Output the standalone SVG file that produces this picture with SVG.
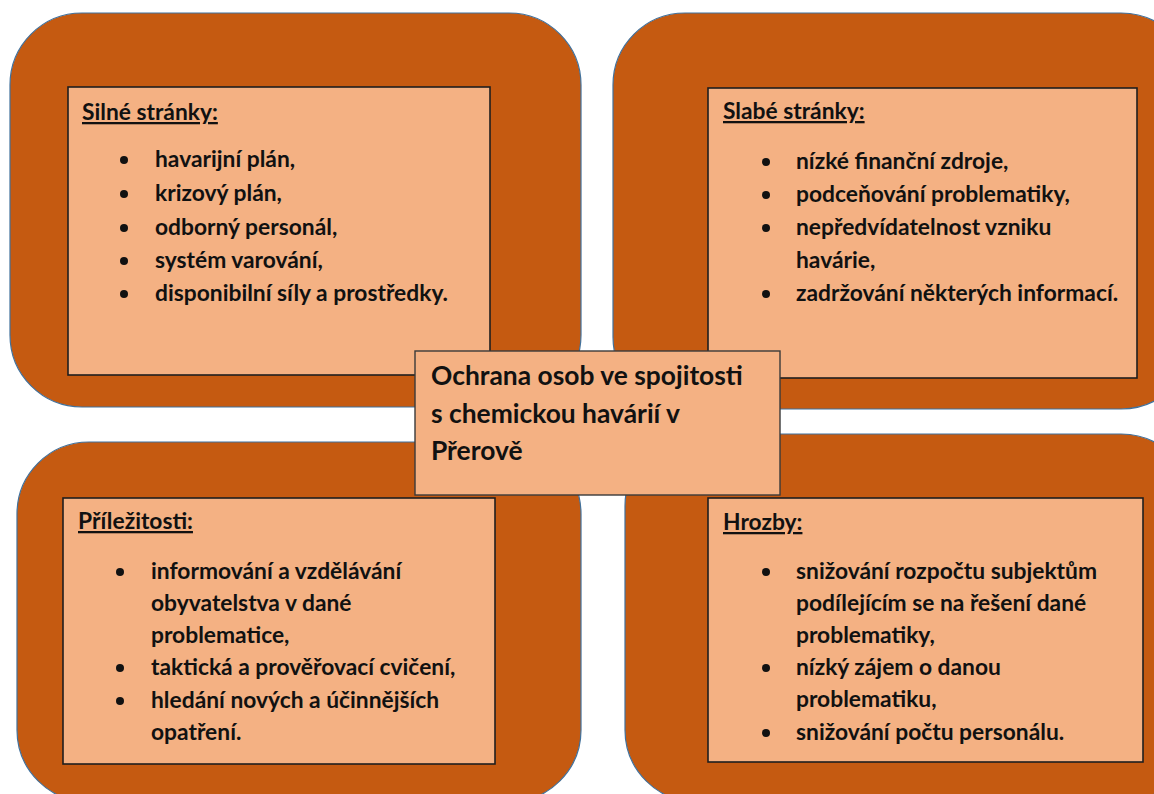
<svg xmlns="http://www.w3.org/2000/svg" width="1154" height="794" viewBox="0 0 1154 794">
<style>
.outer{fill:#C55A11;stroke:#41719C;stroke-width:1.2}
.inner{fill:#F4B183;stroke:#1E1E1E;stroke-width:1.6}
.center{fill:#F4B183;stroke:#3A3A3A;stroke-width:1.4}
.b{fill:#111}
text{font-family:Lato,"Open Sans","Liberation Sans",sans-serif;font-weight:bold;fill:#111}
.h{font-size:22.8px;text-decoration:underline}
.t{font-size:22.8px}
.c{font-size:26.4px}
</style>
<rect width="1154" height="794" fill="#FFFFFF"/>
<g id="strengths">
<rect class="outer" x="10" y="13" width="571" height="394" rx="72" ry="72"/>
<rect class="inner" x="68" y="87" width="422" height="288"/>
<text class="h" x="82" y="120">Silné stránky:</text>
<circle class="b" cx="124" cy="160" r="4"/><text class="t" x="155" y="167">havarijní plán,</text>
<circle class="b" cx="124" cy="194" r="4"/><text class="t" x="155" y="201">krizový plán,</text>
<circle class="b" cx="124" cy="228" r="4"/><text class="t" x="155" y="235">odborný personál,</text>
<circle class="b" cx="124" cy="261" r="4"/><text class="t" x="155" y="268">systém varování,</text>
<circle class="b" cx="124" cy="294" r="4"/><text class="t" x="155" y="301">disponibilní síly a prostředky.</text>
</g>
<g id="weaknesses">
<rect class="outer" x="613" y="13" width="580" height="396" rx="72" ry="72"/>
<rect class="inner" x="708" y="88" width="429" height="290"/>
<text class="h" x="723" y="119">Slabé stránky:</text>
<circle class="b" cx="766" cy="162" r="4"/><text class="t" x="796" y="169">nízké finanční zdroje,</text>
<circle class="b" cx="766" cy="195" r="4"/><text class="t" x="796" y="202">podceňování problematiky,</text>
<circle class="b" cx="766" cy="228" r="4"/><text class="t" x="796" y="235">nepředvídatelnost vzniku</text>
<text class="t" x="796" y="268">havárie,</text>
<circle class="b" cx="766" cy="294" r="4"/><text class="t" x="796" y="301">zadržování některých informací.</text>
</g>
<g id="opportunities">
<rect class="outer" x="17" y="442" width="564" height="360" rx="72" ry="72"/>
<rect class="inner" x="63" y="498" width="432" height="266"/>
<text class="h" x="78" y="529">Příležitosti:</text>
<circle class="b" cx="120" cy="572" r="4"/><text class="t" x="151" y="579">informování a vzdělávání</text>
<text class="t" x="151" y="611">obyvatelstva v dané</text>
<text class="t" x="151" y="643">problematice,</text>
<circle class="b" cx="120" cy="668" r="4"/><text class="t" x="151" y="675">taktická a prověřovací cvičení,</text>
<circle class="b" cx="120" cy="701" r="4"/><text class="t" x="151" y="708">hledání nových a účinnějších</text>
<text class="t" x="151" y="740">opatření.</text>
</g>
<g id="threats">
<rect class="outer" x="625" y="434" width="568" height="368" rx="72" ry="72"/>
<rect class="inner" x="708" y="498" width="435" height="264"/>
<text class="h" x="723" y="530">Hrozby:</text>
<circle class="b" cx="766" cy="572" r="4"/><text class="t" x="796" y="579">snižování rozpočtu subjektům</text>
<text class="t" x="796" y="611">podílejícím se na řešení dané</text>
<text class="t" x="796" y="643">problematiky,</text>
<circle class="b" cx="766" cy="668" r="4"/><text class="t" x="796" y="675">nízký zájem o danou</text>
<text class="t" x="796" y="707">problematiku,</text>
<circle class="b" cx="766" cy="733" r="4"/><text class="t" x="796" y="740">snižování počtu personálu.</text>
</g>
<g id="center">
<rect class="center" x="415" y="351" width="365" height="144"/>
<text class="c" x="431" y="385">Ochrana osob ve spojitosti</text>
<text class="c" x="431" y="423">s chemickou havárií v</text>
<text class="c" x="431" y="460">Přerově</text>
</g>
<g id="connectors"/>
</svg>
